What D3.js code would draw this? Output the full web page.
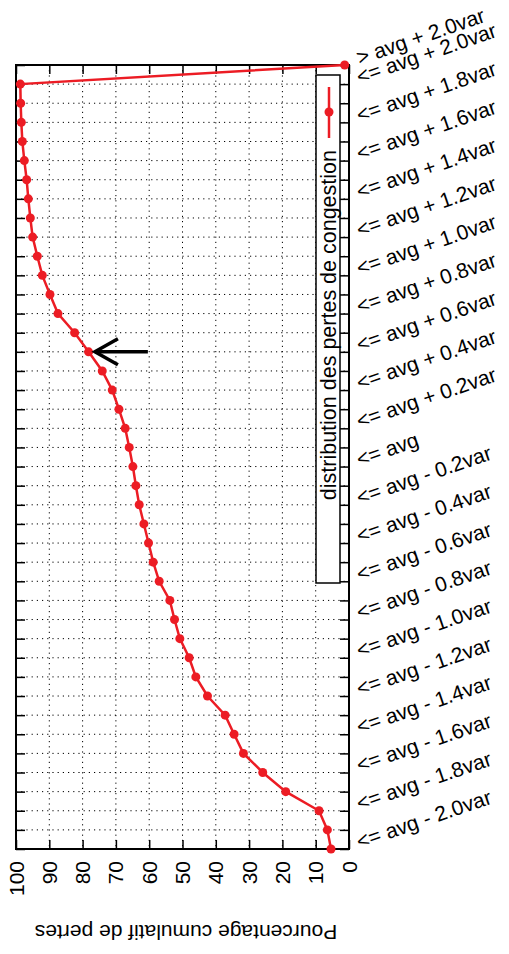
<!DOCTYPE html>
<html><head><meta charset="utf-8">
<script src="https://cdn.jsdelivr.net/npm/d3@7/dist/d3.min.js"></script>
<style>body{margin:0;background:#fff}svg{display:block}text{font-family:"Liberation Sans",Arial,sans-serif}</style>
</head><body>
<svg id="c" width="509" height="954"></svg>
<script>
// Category positions (in var units relative to avg); last = "> avg + 2.0var"
const positions = [-2.0,-1.9,-1.8,-1.7,-1.6,-1.5,-1.4,-1.3,-1.2,-1.1,-1.0,-0.9,-0.8,-0.7,-0.6,-0.5,-0.4,-0.3,-0.2,-0.1,0.0,
  0.1,0.2,0.3,0.4,0.5,0.6,0.7,0.8,0.9,1.0,1.1,1.2,1.3,1.4,1.5,1.6,1.7,1.8,1.9,2.0,2.1];
const cumul = [5.4,6.5,9.0,19.0,25.9,31.7,34.5,37.2,42.5,46.0,48.0,50.8,52.4,53.8,57.0,58.8,60.2,61.6,63.0,64.0,64.9,
  66.0,67.2,69.1,71.1,74.1,78.2,82.4,87.4,89.8,92.1,93.6,95.0,95.7,96.3,96.8,97.5,98.1,98.4,98.6,98.7,1.3];
const catTickPos = [-2.0,-1.8,-1.6,-1.4,-1.2,-1.0,-0.8,-0.6,-0.4,-0.2,0.0,0.2,0.4,0.6,0.8,1.0,1.2,1.4,1.6,1.8,2.0,2.1];
const catTickLabels = ["<= avg - 2.0var","<= avg - 1.8var","<= avg - 1.6var","<= avg - 1.4var","<= avg - 1.2var",
  "<= avg - 1.0var","<= avg - 0.8var","<= avg - 0.6var","<= avg - 0.4var","<= avg - 0.2var","<= avg",
  "<= avg + 0.2var","<= avg + 0.4var","<= avg + 0.6var","<= avg + 0.8var","<= avg + 1.0var","<= avg + 1.2var",
  "<= avg + 1.4var","<= avg + 1.6var","<= avg + 1.8var","<= avg + 2.0var","> avg + 2.0var"];
const valueTicks = [0,10,20,30,40,50,60,70,80,90,100];
const seriesName = "distribution des pertes de congestion";
const axisTitle = "Pourcentage cumulatif de pertes";
const arrowFrom = {v:60.4, p:0.6}, arrowTo = {v:76.3, p:0.6};

const svg = d3.select("#c");
const L=16, R=349, T=65, B=849;
const x = d3.scaleLinear().domain([100,0]).range([L,R]);
const y = d3.scaleLinear().domain([-2.0,2.1]).range([B,T]);
const red = "#ec1c24";
const fs = 21;

// grid
const g = svg.append("g");
g.selectAll("line.gh").data(positions.slice(1,-1)).join("line")
  .attr("x1",L).attr("x2",R).attr("y1",d=>y(d)).attr("y2",d=>y(d))
  .attr("stroke","#000").attr("stroke-width",1).attr("stroke-dasharray","1.2,4");
g.selectAll("line.gv").data(valueTicks.slice(1,-1)).join("line")
  .attr("y1",T).attr("y2",B).attr("x1",d=>x(d)).attr("x2",d=>x(d))
  .attr("stroke","#000").attr("stroke-width",1).attr("stroke-dasharray","1.2,4");

// ticks (inward) via axes
const tl = 9;
svg.append("g").attr("transform",`translate(0,${B})`)
  .call(d3.axisTop(x).tickValues(valueTicks).tickSize(tl).tickFormat(""))
  .call(a=>a.select(".domain").remove()).selectAll("line").attr("stroke-width",1.5);
svg.append("g").attr("transform",`translate(0,${T})`)
  .call(d3.axisBottom(x).tickValues(valueTicks).tickSize(tl).tickFormat(""))
  .call(a=>a.select(".domain").remove()).selectAll("line").attr("stroke-width",1.5);
svg.append("g").attr("transform",`translate(${L},0)`)
  .call(d3.axisRight(y).tickValues(positions).tickSize(tl).tickFormat(""))
  .call(a=>a.select(".domain").remove()).selectAll("line").attr("stroke-width",1.5);
svg.append("g").attr("transform",`translate(${R},0)`)
  .call(d3.axisLeft(y).tickValues(positions).tickSize(tl).tickFormat(""))
  .call(a=>a.select(".domain").remove()).selectAll("line").attr("stroke-width",1.5);

// value tick labels
svg.append("g").selectAll("text").data(valueTicks).join("text")
  .attr("transform",d=>`translate(${x(d)},861) rotate(-90)`)
  .attr("text-anchor","end").attr("dominant-baseline","central")
  .attr("font-size",fs).text(d=>d);

// category labels
svg.append("g").selectAll("text").data(catTickPos).join("text")
  .attr("transform",d=>`translate(357,${y(d)-7}) rotate(-19)`)
  .attr("text-anchor","start").attr("dominant-baseline","central")
  .attr("font-size",fs).text((d,i)=>catTickLabels[i]);

// axis title
svg.append("text").attr("transform",`translate(186,932) rotate(180)`)
  .attr("text-anchor","middle").attr("dominant-baseline","central")
  .attr("font-size",fs).text(axisTitle);

// legend
svg.append("rect").attr("x",316).attr("y",75).attr("width",24).attr("height",508)
  .attr("fill","#fff").attr("stroke","#000").attr("stroke-width",1.5);
svg.append("line").attr("x1",329).attr("x2",329).attr("y1",87).attr("y2",138)
  .attr("stroke",red).attr("stroke-width",2.5);
svg.append("circle").attr("cx",329).attr("cy",112).attr("r",4.5).attr("fill",red);
svg.append("text").attr("transform",`translate(329,150) rotate(-90)`)
  .attr("text-anchor","end").attr("dominant-baseline","central")
  .attr("font-size",21.5).text(seriesName);

// frame
svg.append("rect").attr("x",L).attr("y",T).attr("width",R-L).attr("height",B-T)
  .attr("fill","none").attr("stroke","#000").attr("stroke-width",2);

// series
const line = d3.line().x(d=>x(d[1])).y(d=>y(d[0]));
const pts = positions.map((p,i)=>[p,cumul[i]]);
svg.append("path").datum(pts).attr("d",line).attr("fill","none")
  .attr("stroke",red).attr("stroke-width",2.5);
svg.append("g").selectAll("circle").data(pts).join("circle")
  .attr("cx",d=>x(d[1])).attr("cy",d=>y(d[0])).attr("r",4.5).attr("fill",red);

// arrow
const ax0=x(arrowFrom.v), ay=y(arrowFrom.p), ax1=x(arrowTo.v);
svg.append("line").attr("x1",ax0).attr("x2",ax1).attr("y1",ay).attr("y2",ay)
  .attr("stroke","#000").attr("stroke-width",3.5);
svg.append("path").attr("d",`M${ax1+23},${ay-13}L${ax1},${ay}L${ax1+23},${ay+13}`)
  .attr("fill","none").attr("stroke","#000").attr("stroke-width",3.5);
</script>
</body></html>
